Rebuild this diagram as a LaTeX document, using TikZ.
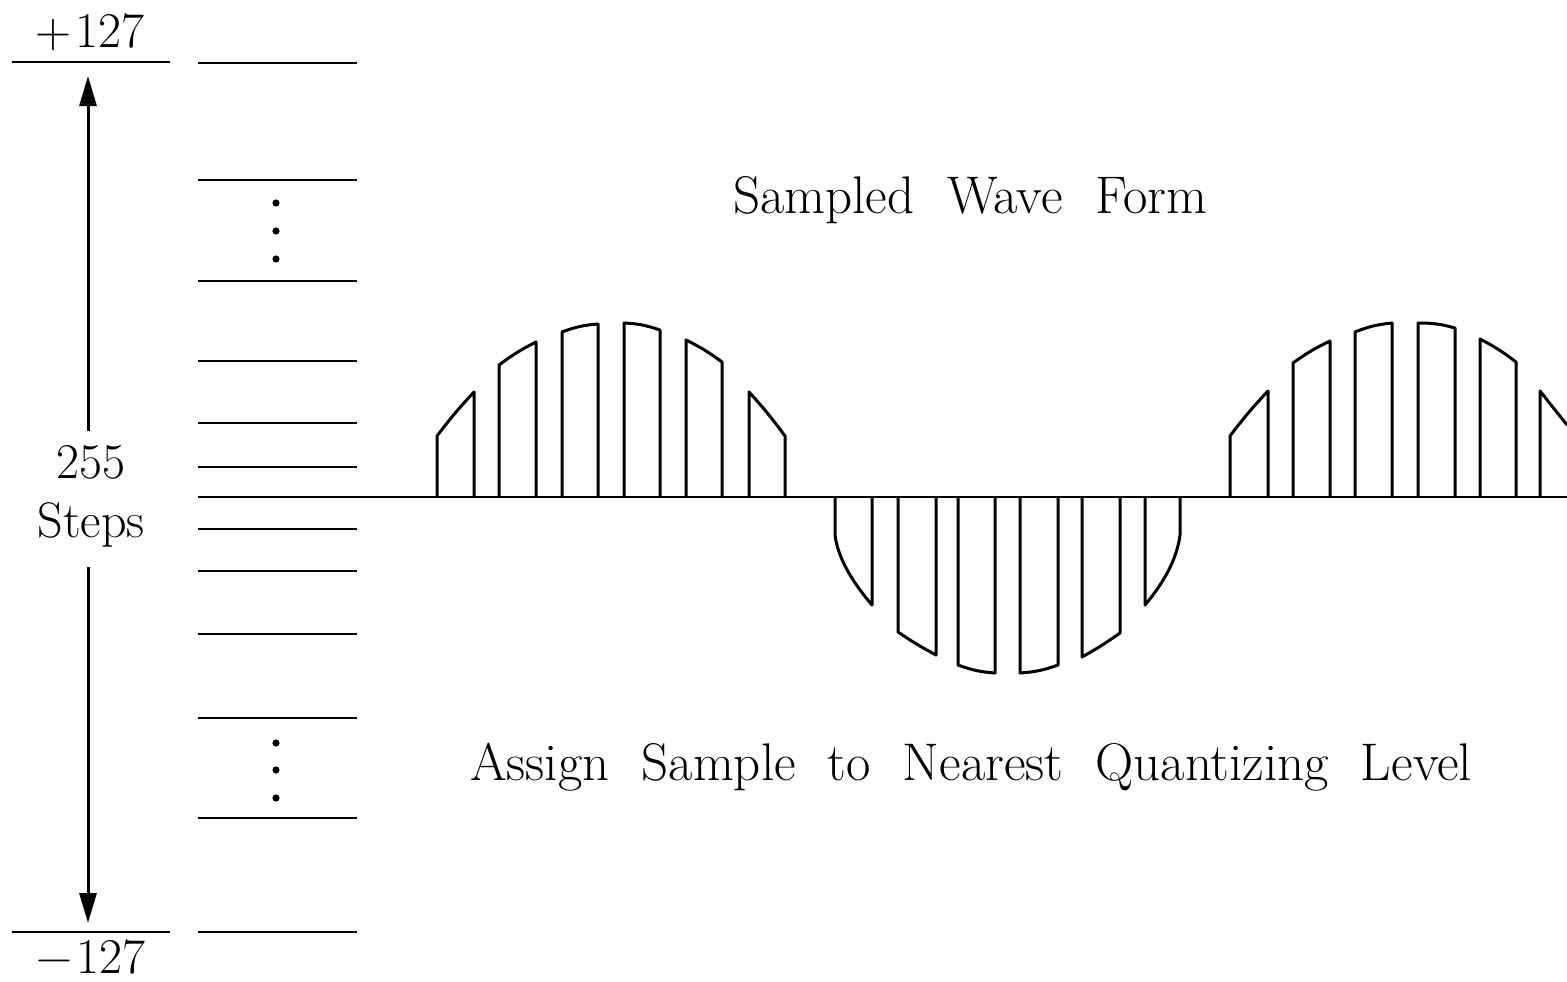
\documentclass[tikz,border=0pt]{standalone}
\usetikzlibrary{arrows.meta}
\tikzset{
  level/.style={line width=2.4pt},
  wave/.style={line width=3pt, line join=round},
  bigtext/.style={font=\fontsize{50}{59}\selectfont, inner sep=0pt},
  titletext/.style={font=\fontsize{53}{60}\selectfont, inner sep=0pt},
  spanarrow/.style={line width=3pt, -{Triangle[length=30pt,width=17pt]}},
  dotmark/.style={fill=black, draw=none},
}
\newcommand{\pbar}[5]{\draw[wave] (#1,497) -- (#1,#3) to[bend left=#5] (#2,#4) -- (#2,497);}
\newcommand{\nbar}[5]{\draw[wave] (#1,497) -- (#1,#3) to[bend right=#5] (#2,#4) -- (#2,497);}
\begin{document}
\begin{tikzpicture}[x=1pt,y=-1pt]
\useasboundingbox[fill=white] (0,0) rectangle (1567,982);
% left scale lines
\draw[level] (12,62) -- (170,62);
\draw[level] (12,932) -- (170,932);
% quantizing levels
\foreach \y in {63,180,281,361,423,467,529,571,634,718,818,932}
  \draw[level] (198,\y) -- (357,\y);
% axis
\draw[level] (198,497) -- (1567,497);
% dots
\foreach \y in {203,231,259,743,770,798}
  \fill[dotmark] (276,\y) circle (3.6pt);
% labels
\node[bigtext, anchor=base] (plus) at (90,48) {+\kern4pt127};
\node[bigtext, anchor=base] (minus) at (91,973) {−\kern4pt127};
\node[bigtext, align=center, inner ysep=14pt] (steps) at (91,496) {255\\Steps};
\coordinate (toptip) at (88,76);
\coordinate (bottip) at (88,923);
\draw[spanarrow] (steps.north -| toptip) -- (toptip);
\draw[spanarrow] (steps.south -| bottip) ++(0,6) -- (bottip);
\node[titletext, anchor=base west] (title) at (733,213) {\spaceskip=33pt Sampled Wave Form};
\node[titletext, anchor=base west] (assign) at (470,780) {\spaceskip=32pt Assign Sample to Nearest Quantizing Level};
% first positive half
\pbar{437}{474}{436}{392}{3}
\pbar{499}{536}{365}{342}{5}
\pbar{562}{598}{332}{324}{8}
\pbar{624}{660}{323}{330}{8}
\pbar{686}{722}{340}{362}{5}
\pbar{749}{785}{392}{436}{3}
% negative half
\draw[wave] (835,497) -- (835,535) .. controls (838,560) and (855,585) .. (872,605) -- (872,497);
\nbar{898}{936}{632}{655}{3}
\nbar{958}{995}{665}{673}{8}
\nbar{1020}{1058}{673}{665}{8}
\nbar{1082}{1120}{657}{633}{3}
\draw[wave] (1145,497) -- (1145,605) .. controls (1162,585) and (1177,560) .. (1180,535) -- (1180,497);
% second positive half
\pbar{1230}{1268}{436}{391}{3}
\pbar{1293}{1330}{363}{341}{5}
\pbar{1355}{1392}{332}{323}{8}
\pbar{1418}{1455}{323}{328}{8}
\pbar{1480}{1516}{339}{362}{5}
\draw[wave] (1540,497) -- (1540,391) -- (1567,425);
\end{tikzpicture}
\end{document}
